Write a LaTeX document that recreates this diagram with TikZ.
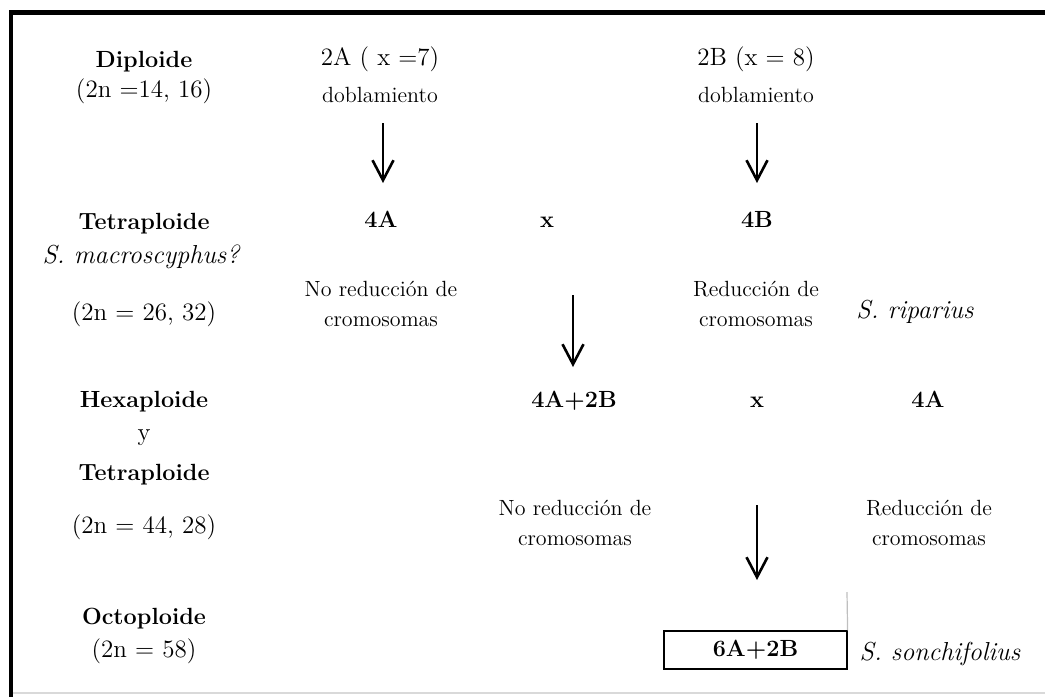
\documentclass[tikz,border=0pt]{standalone}
\usepackage{tikz}
\usetikzlibrary{arrows.meta}
\definecolor{gris}{rgb}{0.75,0.75,0.75}
\tikzstyle{flecha}=[-{Straight Barb[length=10pt,width=10.5pt]},
                    line width=1.3pt]
\tikzstyle{nivel}=[anchor=base, inner sep=0pt,
                   font=\fontsize{11.7}{14}\selectfont\bfseries]
\tikzstyle{genoma}=[anchor=base, inner sep=0pt,
                    font=\fontsize{11.7}{14}\selectfont\bfseries]
\tikzstyle{texto}=[anchor=base, inner sep=0pt,
                   font=\fontsize{12.5}{15}\selectfont]
\tikzstyle{nota}=[anchor=base, inner sep=0pt, align=center,
                  font=\fontsize{11}{15}\selectfont]
\tikzstyle{especie}=[anchor=base, inner sep=0pt,
                     font=\fontsize{13}{15}\selectfont\itshape]
\tikzstyle{caja}=[draw, line width=0.6pt, inner sep=0pt,
                  minimum width=91.5pt, minimum height=19pt,
                  font=\fontsize{11.7}{14}\selectfont\bfseries]

\begin{document}
\begin{tikzpicture}[x=0.5pt,y=-0.5pt]
    \useasboundingbox (0,0) rectangle (1045,697);

    % marco
    \draw [line width=2.4pt] (1045,12.5) -- (11,12.5) -- (11,697);
    \draw [gris!60, line width=0.7pt] (13,693) -- (1045,693);

    % columna de niveles
    \draw (144,67) node (dip) [nivel] {Diploide};
    \draw (144,97) node (dipn) [texto] {(2n =14, 16)};
    \draw (144,229) node (tet) [nivel] {Tetraploide};
    \draw (141,263) node (mac) [especie] {S. macroscyphus?};
    \draw (144,320) node (tetn) [texto] {(2n = 26, 32)};
    \draw (144,407) node (hex) [nivel] {Hexaploide};
    \draw (144,440) node (hexy) [texto] {y};
    \draw (144,480) node (tet2) [nivel] {Tetraploide};
    \draw (144,533) node (hexn) [texto] {(2n = 44, 28)};
    \draw (144,624) node (oct) [nivel] {Octoploide};
    \draw (144,657) node (octn) [texto] {(2n = 58)};

    % diploides
    \draw (380,65) node (d2A) [texto] {2A ( x =7)};
    \draw (380,102) node (dob1) [nota] {doblamiento};
    \draw (756,65) node (d2B) [texto] {2B (x = 8)};
    \draw (756,102) node (dob2) [nota] {doblamiento};

    % tetraploides
    \draw (381,227) node (t4A) [genoma] {4A};
    \draw (547,227) node (cruce1) [genoma] {x};
    \draw (757,227) node (t4B) [genoma] {4B};
    \draw (381,326) node (nored1) [nota] {No reducción de\\cromosomas};
    \draw (756,326) node (red1) [nota] {Reducción de\\cromosomas};
    \draw (915,318) node (rip) [especie] {S. riparius};

    % hexaploide x tetraploide
    \draw (574,407) node (h4A2B) [genoma] {4A+2B};
    \draw (757,407) node (cruce2) [genoma] {x};
    \draw (928,407) node (h4A) [genoma] {4A};
    \draw (575,545) node (nored2) [nota] {No reducción de\\cromosomas};
    \draw (929,545) node (red2) [nota] {Reducción de\\cromosomas};

    % octoploide
    \draw (755.5,650) node (final) [caja] {6A+2B};
    \draw (940,660) node (son) [especie] {S. sonchifolius};

    % flechas
    \coordinate (f1a) at (383,123);  \coordinate (f1b) at (383,183);
    \coordinate (f2a) at (757,123);  \coordinate (f2b) at (757,183);
    \coordinate (f3a) at (573,295);  \coordinate (f3b) at (573,367);
    \coordinate (f4a) at (757,505);  \coordinate (f4b) at (757,580);
    \foreach \i in {1,...,4}
        \draw [flecha] (f\i a) -- (f\i b);

    \coordinate (tope) at (847,592);
    \draw [gris, line width=0.6pt] (final.north east) -- (tope);

\end{tikzpicture}
\end{document}
